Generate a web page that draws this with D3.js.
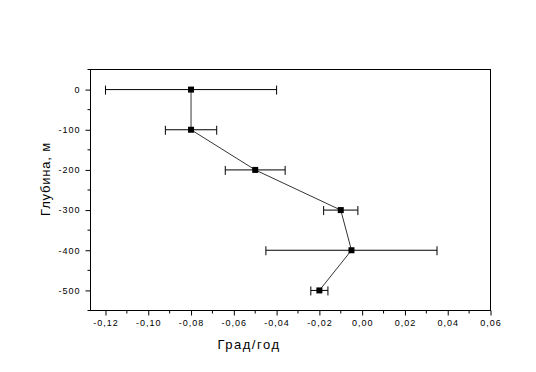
<!DOCTYPE html>
<html>
<head>
<meta charset="utf-8">
<script src="https://cdn.jsdelivr.net/npm/d3@7"></script>
<style>
  body { margin: 0; background: #fff; }
  text { font-family: "Liberation Sans", Arial, sans-serif; fill: #000; }
</style>
</head>
<body>
<div id="chart"></div>
<script>
var w = 536, h = 372;

// data
var depths = [0, -100, -200, -300, -400, -500];
var rates = [-0.08, -0.08, -0.05, -0.01, -0.005, -0.02];
var errors = [0.04, 0.012, 0.014, 0.008, 0.04, 0.004];
var xTicks = [-0.12, -0.10, -0.08, -0.06, -0.04, -0.02, 0.00, 0.02, 0.04, 0.06];
var yTicks = [0, -100, -200, -300, -400, -500];

var points = depths.map((d, i) => ({ depth: d, rate: rates[i], err: errors[i] }));

var m = { left: 90, right: 490, top: 69, bottom: 310 };

var x = d3.scaleLinear().domain([-0.127, 0.06]).range([m.left, m.right]);
var y = d3.scaleLinear().domain([-550, 50]).range([m.bottom, m.top]);

var svg = d3.select("#chart").append("svg")
    .attr("width", w).attr("height", h);

// frame
svg.append("rect")
    .attr("x", m.left + 0.5).attr("y", m.top + 0.5)
    .attr("width", m.right - m.left).attr("height", m.bottom - m.top)
    .attr("fill", "none").attr("stroke", "#000").attr("stroke-width", 1);

var fmt = d => d3.format(".2f")(d).replace(".", ",").replace("−", "-");

// x axis, major + minor ticks
var xAxis = svg.append("g").attr("transform", "translate(0.5," + (m.bottom + 0.5) + ")");
xAxis.call(d3.axisBottom(x).tickValues(xTicks).tickSize(5).tickFormat(fmt));
var xMinor = d3.range(-0.11, 0.06, 0.02);
xAxis.selectAll(".minor").data(xMinor).enter().append("line")
    .attr("class", "minor")
    .attr("x1", d => x(d)).attr("x2", d => x(d))
    .attr("y1", 0).attr("y2", 3).attr("stroke", "#000");

// y axis
var yAxis = svg.append("g").attr("transform", "translate(" + (m.left + 0.5) + ",0.5)");
yAxis.call(d3.axisLeft(y).tickValues(yTicks).tickSize(5).tickFormat(d => d3.format("d")(d).replace("−", "-")));
var yMinor = [50, -50, -150, -250, -350, -450, -550];
yAxis.selectAll(".minor").data(yMinor).enter().append("line")
    .attr("class", "minor")
    .attr("x1", 0).attr("x2", -3)
    .attr("y1", d => y(d)).attr("y2", d => y(d)).attr("stroke", "#000");

svg.selectAll(".domain").remove();
svg.selectAll(".tick line").attr("stroke", "#000");
svg.selectAll(".tick text")
    .style("font-size", "9px").style("letter-spacing", "1px");
xAxis.selectAll(".tick text").attr("dy", "0.71em").attr("y", 9);
yAxis.selectAll(".tick text").attr("x", -10);

// axis titles
svg.append("text")
    .attr("x", 249).attr("y", 349)
    .attr("text-anchor", "middle")
    .style("font-size", "13px").style("letter-spacing", "1.5px")
    .text("Град/год");
svg.append("text")
    .attr("transform", "translate(50,179) rotate(-90)")
    .attr("text-anchor", "middle")
    .style("font-size", "13px").style("letter-spacing", "0.8px")
    .text("Глубина, м");

var g = svg.append("g").attr("transform", "translate(0.5,0.5)");

// connecting line
g.append("path")
    .datum(points)
    .attr("fill", "none").attr("stroke", "#000").attr("stroke-width", 0.8)
    .attr("d", d3.line().x(d => x(d.rate)).y(d => y(d.depth)));

// horizontal error bars
var eb = g.selectAll(".err").data(points).enter().append("g").attr("class", "err");
eb.append("line")
    .attr("x1", d => x(d.rate - d.err)).attr("x2", d => x(d.rate + d.err))
    .attr("y1", d => y(d.depth)).attr("y2", d => y(d.depth))
    .attr("stroke", "#000");
eb.append("line")
    .attr("x1", d => x(d.rate - d.err)).attr("x2", d => x(d.rate - d.err))
    .attr("y1", d => y(d.depth) - 4).attr("y2", d => y(d.depth) + 5)
    .attr("stroke", "#000");
eb.append("line")
    .attr("x1", d => x(d.rate + d.err)).attr("x2", d => x(d.rate + d.err))
    .attr("y1", d => y(d.depth) - 4).attr("y2", d => y(d.depth) + 5)
    .attr("stroke", "#000");

// square markers
g.selectAll(".pt").data(points).enter().append("rect")
    .attr("class", "pt")
    .attr("x", d => x(d.rate) - 3).attr("y", d => y(d.depth) - 3)
    .attr("width", 6).attr("height", 6)
    .attr("fill", "#000");
</script>
</body>
</html>
